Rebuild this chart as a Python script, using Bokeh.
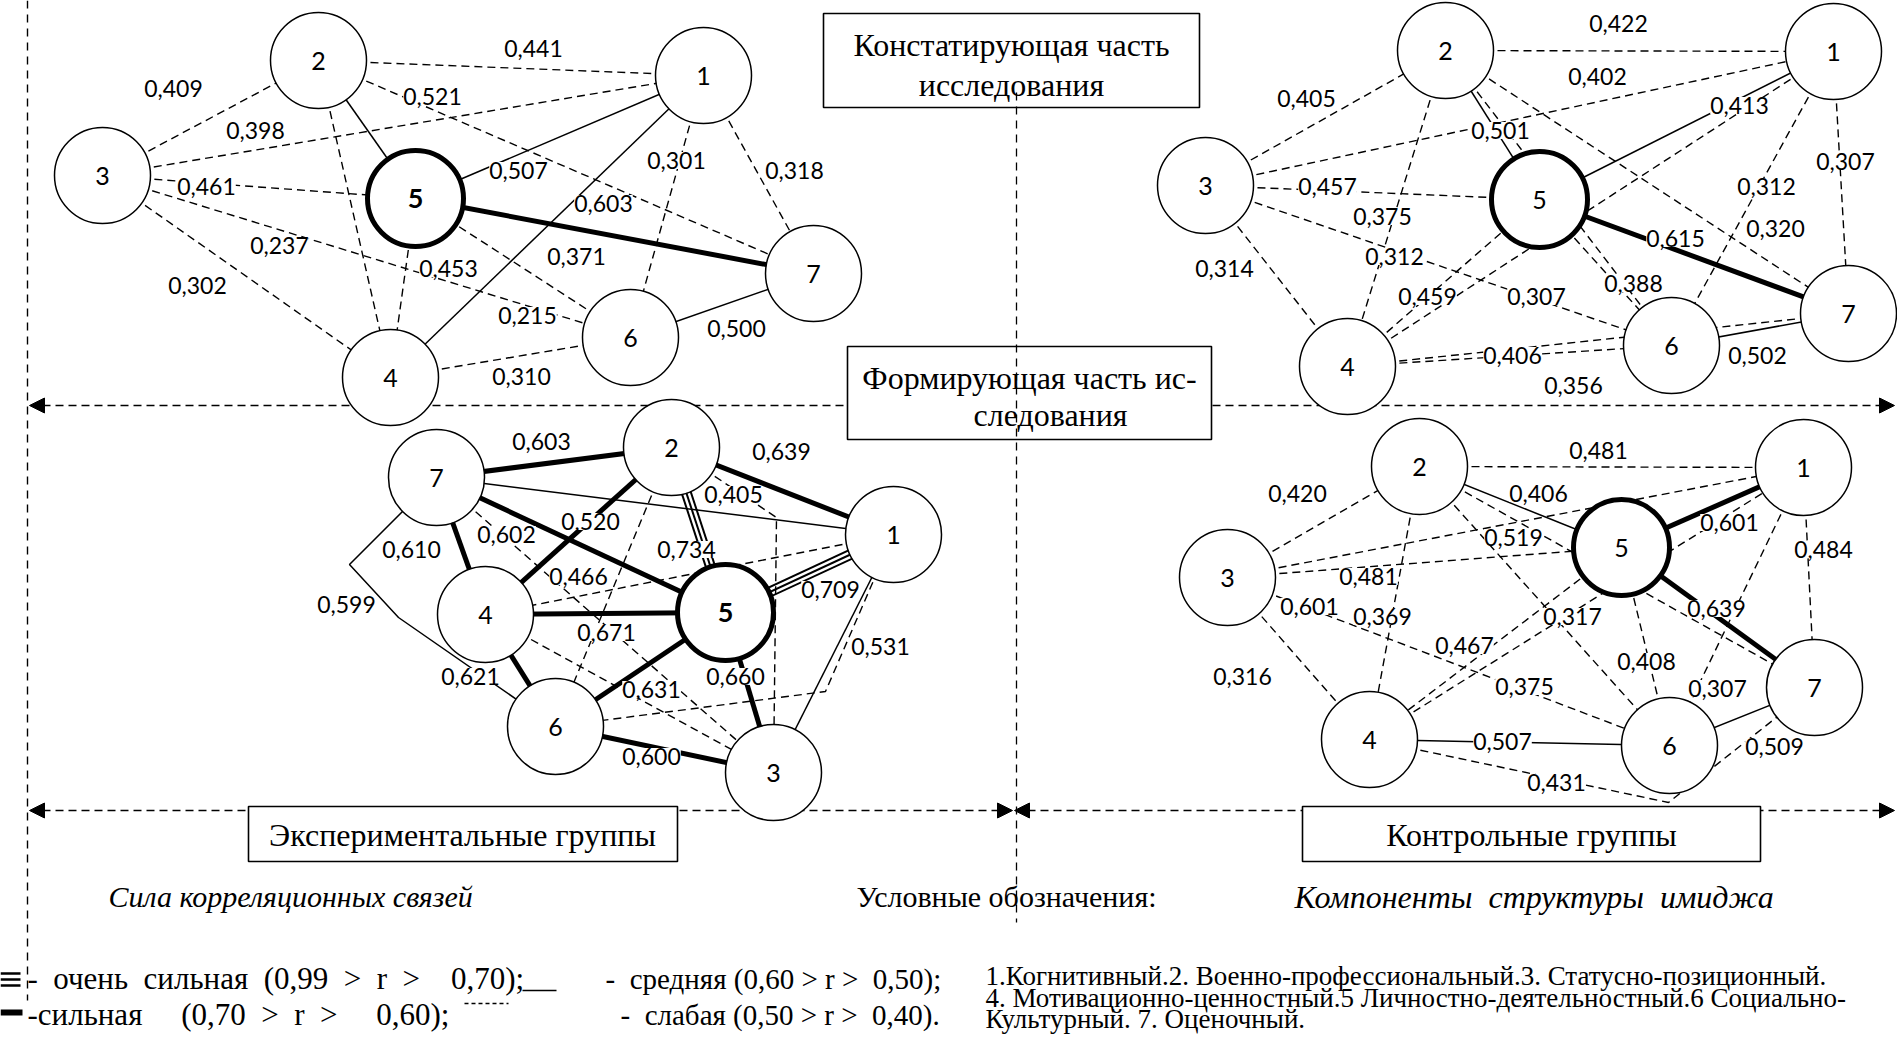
import math
from bokeh.plotting import figure
from bokeh.models import Range1d, Arrow, NormalHead
from bokeh.core.properties import value
from bokeh.embed import file_html
from bokeh.resources import INLINE

# ------------------------------------------------------------------ data
# correlation links (pairs of structure components) and their r values
# Top-left: constating stage, experimental groups
tl_pairs = [("2", "1"), ("3", "2"), ("2", "5"), ("3", "1"), ("3", "5"), ("5", "1"),
            ("1", "6"), ("1", "7"), ("5", "7"), ("3", "6"), ("5", "4"), ("5", "6"),
            ("3", "4"), ("1", "4"), ("6", "7"), ("4", "6"), ("2", "4"), ("2", "7")]
tl_r = [0.441, 0.409, 0.521, 0.398, 0.461, 0.507, 0.301, 0.318, 0.603, 0.237,
        0.453, 0.371, 0.302, 0.215, 0.500, 0.310, None, None]

# Top-right: constating stage, control groups
tr_pairs = [("2", "1"), ("2", "7"), ("3", "2"), ("5", "1"), ("2", "5"), ("1", "7"),
            ("3", "5"), ("4", "1"), ("2", "4"), ("5", "7"), ("1", "6"), ("3", "6"),
            ("3", "4"), ("5", "6"), ("4", "5"), ("2", "6"), ("4", "6"), ("6", "7"),
            ("4", "7"), ("3", "1")]
tr_r = [0.422, 0.402, 0.405, 0.413, 0.501, 0.307, 0.457, 0.312, 0.375, 0.615,
        0.320, 0.312, 0.314, 0.388, 0.459, 0.307, 0.406, 0.502, 0.356, None]

# Bottom-left: forming stage, experimental groups
bl_pairs = [("7", "2"), ("2", "1"), ("2", "3"), ("7", "1"), ("2", "4"), ("7", "4"),
            ("2", "5"), ("1", "4"), ("1", "5"), ("4", "5"), ("7", "6"), ("4", "6"),
            ("5", "3"), ("5", "6"), ("6", "3"), ("1", "3"), ("7", "5"), ("1", "6"),
            ("7", "3"), ("4", "3"), ("2", "6")]
bl_r = [0.603, 0.639, 0.405, 0.520, 0.602, 0.610, 0.734, 0.466, 0.709, 0.671,
        0.599, 0.621, 0.660, 0.631, 0.600, 0.531, None, None, None, None, None]

# Bottom-right: forming stage, control groups
br_pairs = [("2", "1"), ("3", "2"), ("2", "5"), ("3", "1"), ("3", "5"), ("3", "6"),
            ("2", "4"), ("5", "4"), ("2", "6"), ("3", "4"), ("4", "1"), ("5", "6"),
            ("5", "1"), ("1", "7"), ("5", "7"), ("1", "6"), ("4", "6"), ("6", "7"),
            ("4", "7"), ("2", "7")]
br_r = [0.481, 0.420, 0.406, 0.519, 0.481, 0.601, 0.369, 0.317, 0.467, 0.316,
        0.375, 0.408, 0.601, 0.484, 0.639, 0.307, 0.507, 0.509, 0.431, None]

component_ids = ["1", "2", "3", "4", "5", "6", "7"]

stage_titles = [["Констатирующая часть", "исследования"], ["Формирующая часть ис-", "следования"]]
group_titles = ["Экспериментальные группы", "Контрольные группы"]
legend_heads = ["Сила корреляционных связей", "Условные обозначения:", "Компоненты структуры имиджа"]
strength_text = ["- очень сильная (0,99 > r >  0,70);", "-  средняя (0,60 > r >  0,50);",
                 "-сильная  (0,70 > r >  0,60);", "-  слабая (0,50 > r >  0,40)."]
component_text = ["1.Когнитивный.2. Военно-профессиональный.3. Статусно-позиционный.",
                  "4. Мотивационно-ценностный.5 Личностно-деятельностный.6 Социально-",
                  "Культурный. 7. Оценочный."]

# ------------------------------------------------------------------ layout (screen pixels)
layout = {
    "tl": dict(
        shift=(0, -7),
        nodes={"1": (703, 82), "2": (318, 67), "3": (102, 182), "4": (390, 384),
               "5": (415, 205), "6": (630, 344), "7": (813, 280)},
        labels=[(533, 55), (173, 95), (432, 103), (255, 137), (206, 193), (518, 177),
                (676, 167), (794, 177), (603, 210), (279, 252), (448, 275), (576, 263),
                (197, 292), (527, 322), (736, 335), (521, 383), None, None],
        via={}, override={("1", "4"): "thin"}, bold5=True),
    "tr": dict(
        shift=(-4, -7),
        nodes={"1": (1837, 58), "2": (1449, 57), "3": (1209, 192), "4": (1351, 373),
               "5": (1543, 206), "6": (1675, 352), "7": (1852, 320)},
        labels=[(1622, 30), (1601, 83), (1310, 105), (1743, 112), (1504, 137), (1849, 168),
                (1331, 193), (1770, 193), (1386, 223), (1679, 245), (1779, 235), (1398, 263),
                (1228, 275), (1637, 290), (1431, 303), (1540, 303), (1516, 362), (1761, 362),
                (1577, 392), None],
        via={}, override={("5", "1"): "thin"}, bold5=False),
    "bl": dict(
        shift=(-2, -6),
        nodes={"1": (895, 540), "2": (673, 453), "3": (775, 778), "4": (487, 620),
               "5": (727, 618), "6": (557, 732), "7": (438, 483)},
        labels=[(543, 447), (783, 457), (735, 500), (592, 527), (508, 540), (413, 555),
                (688, 555), (580, 582), (832, 595), (608, 638), (348, 610), (472, 682),
                (737, 682), (653, 695), (653, 762), (882, 652), None, None, None, None, None],
        via={("2", "3"): [(778, 523)], ("7", "6"): [(351, 570), (400, 623)],
             ("1", "6"): [(827, 697)]},
        override={("7", "5"): "thick"}, bold5=True),
    "br": dict(
        shift=(-4, -6),
        nodes={"1": (1807, 473), "2": (1423, 472), "3": (1231, 583), "4": (1373, 745),
               "5": (1625, 553), "6": (1673, 751), "7": (1818, 693)},
        labels=[(1602, 456), (1301, 499), (1542, 499), (1517, 543), (1372, 582), (1313, 612),
                (1386, 622), (1576, 622), (1468, 651), (1246, 682), (1528, 692), (1650, 667),
                (1733, 528), (1827, 555), (1720, 614), (1721, 694), (1506, 747), (1778, 752),
                (1560, 788), None],
        via={("4", "7"): [(1672, 808)]},
        override={("2", "5"): "thin", ("3", "1"): "dash", ("3", "6"): "dash"}, bold5=False),
}
quads = {"tl": (tl_pairs, tl_r), "tr": (tr_pairs, tr_r),
         "bl": (bl_pairs, bl_r), "br": (br_pairs, br_r)}

W, H = 1897, 1035
NODE_D = 96
SERIF = value("Liberation Serif")
SANS = value("Lato")
NB = "\u00a0"


def strength(r):
    if r is None:
        return "dash"
    if r >= 0.70:
        return "triple"
    if r >= 0.60:
        return "thick"
    if r >= 0.50:
        return "thin"
    return "dash"


def fmt(r):
    return f"{r:.3f}".replace(".", ",")


def spread(s, single=1, double=2):
    # keep the wide spacing of the original justified lines
    return s.replace("  ", NB * double).replace(" ", NB * single)


p = figure(width=W, height=H, x_range=Range1d(0, W), y_range=Range1d(H, 0),
           output_backend="svg", toolbar_location=None, min_border=0,
           x_axis_location=None, y_axis_location=None)
p.grid.visible = False
p.outline_line_color = None
p.background_fill_color = "white"


def head():
    return NormalHead(size=15, fill_color="black", line_color="black", line_width=1)


# frame arrows (drawn beneath everything)
for (x0, x1, y) in [(29, 1894, 405), (29, 1012, 810), (1014, 1894, 810)]:
    p.add_layout(Arrow(start=head(), end=head(), x_start=x0, y_start=y, x_end=x1, y_end=y,
                       line_dash="8 5", line_width=1.6, level="underlay"))
p.line([27, 27], [0, 1000], line_color="black", line_width=1.4, line_dash="8 6")


def P(L, pt):
    return (pt[0] + L["shift"][0], pt[1] + L["shift"][1])


# ------------------------------------------------------------------ edges
groups = {k: ([], []) for k in ("dash", "thin", "thick", "triple")}
lab_x, lab_y, lab_t = [], [], []
for q, (pairs, rs) in quads.items():
    L = layout[q]
    for (a, b), r, lp in zip(pairs, rs, L["labels"]):
        kind = L["override"].get((a, b), strength(r))
        pts = [P(L, L["nodes"][a])] + [P(L, v) for v in L["via"].get((a, b), [])] + [P(L, L["nodes"][b])]
        if kind == "triple":
            (x0, y0), (x1, y1) = pts[0], pts[-1]
            dx, dy = x1 - x0, y1 - y0
            n = math.hypot(dx, dy)
            ox, oy = -dy / n, dx / n
            for o in (-4.5, 0.0, 4.5):
                groups["triple"][0].append([x0 + ox * o, x1 + ox * o])
                groups["triple"][1].append([y0 + oy * o, y1 + oy * o])
        else:
            groups[kind][0].append([pt[0] for pt in pts])
            groups[kind][1].append([pt[1] for pt in pts])
        if r is not None and lp is not None:
            lx, ly = P(L, lp)
            lab_x.append(lx); lab_y.append(ly); lab_t.append(fmt(r))

p.multi_line(groups["dash"][0], groups["dash"][1], line_color="black", line_width=1.4, line_dash="8 5")
p.multi_line(groups["thin"][0], groups["thin"][1], line_color="black", line_width=1.5)
p.multi_line(groups["thick"][0], groups["thick"][1], line_color="black", line_width=5)
p.multi_line(groups["triple"][0], groups["triple"][1], line_color="black", line_width=2)

# ------------------------------------------------------------------ nodes
nx, ny, nw = [], [], []
b_x, b_y, b_t, r_x, r_y, r_t = [], [], [], [], [], []
for q in quads:
    L = layout[q]
    for cid in component_ids:
        x, y = P(L, L["nodes"][cid])
        nx.append(x); ny.append(y); nw.append(5 if cid == "5" else 1.5)
        if cid == "5" and L["bold5"]:
            b_x.append(x); b_y.append(y); b_t.append(cid)
        else:
            r_x.append(x); r_y.append(y); r_t.append(cid)
p.ellipse(nx, ny, width=NODE_D, height=NODE_D, fill_color="white", line_color="black", line_width=nw)
p.text(r_x, r_y, text=r_t, text_font=SANS, text_font_size="25px", text_align="center",
       text_baseline="middle", text_color="black")
p.text(b_x, b_y, text=b_t, text_font=SANS, text_font_size="27px", text_font_style="bold",
       text_align="center", text_baseline="middle", text_color="black")

# ------------------------------------------------------------------ title boxes
boxes = [(823, 1199, 13, 107), (847, 1211, 346, 439), (248, 677, 806, 861), (1302, 1760, 806, 861)]
p.quad(left=[b[0] for b in boxes], right=[b[1] for b in boxes], top=[b[2] for b in boxes],
       bottom=[b[3] for b in boxes], fill_color="white", line_color="black", line_width=1.6)
p.line([1016, 1016], [92, 922], line_color="black", line_width=1.3, line_dash="8 6")

# correlation labels
p.text(lab_x, lab_y, text=lab_t, text_font=SANS, text_font_size="23px", text_align="center",
       text_baseline="middle", text_color="black", background_fill_color="white")

box_tx = [1011, 1011, 1029, 1050, 462, 1531]
box_ty = [44, 84, 377, 414, 834, 834]
box_tt = stage_titles[0] + stage_titles[1] + group_titles
p.text(box_tx, box_ty, text=box_tt, text_font=SERIF, text_font_size="32px", text_align="center",
       text_baseline="middle", text_color="black")

# ------------------------------------------------------------------ legend
p.text([108], [896], text=[legend_heads[0]], text_font=SERIF,
       text_font_size="30px", text_font_style="italic", text_align="left", text_baseline="middle")
p.text([1294], [896], text=[spread(legend_heads[2], 2)], text_font=SERIF,
       text_font_size="32px", text_font_style="italic", text_align="left", text_baseline="middle")
p.text([856], [896], text=[legend_heads[1]], text_font=SERIF, text_font_size="30px",
       text_align="left", text_baseline="middle")
p.text([27, 27], [978, 1014], text=[spread(strength_text[0], 2, 4), spread(strength_text[2], 2, 5)],
       text_font=SERIF, text_font_size="31px", text_align="left", text_baseline="middle")
p.text([605, 620], [978, 1014], text=[spread(strength_text[1]), spread(strength_text[3])],
       text_font=SERIF, text_font_size="29px", text_align="left", text_baseline="middle")
p.text([985, 985, 985], [975, 997, 1018], text=[component_text[0], spread(component_text[1]), component_text[2]],
       text_font=SERIF, text_font_size="27px", text_align="left", text_baseline="middle")

# legend line samples
p.multi_line([[0, 20], [0, 20], [0, 20]], [[973, 973], [979, 979], [985, 985]],
             line_color="black", line_width=2.5)
p.line([522, 556], [990, 990], line_color="black", line_width=1.6)
p.line([0, 22], [1012, 1012], line_color="black", line_width=6)
p.line([464, 508], [1003, 1003], line_color="black", line_width=1.3, line_dash="4 3")

open("out.html", "w").write(file_html(p, INLINE))
